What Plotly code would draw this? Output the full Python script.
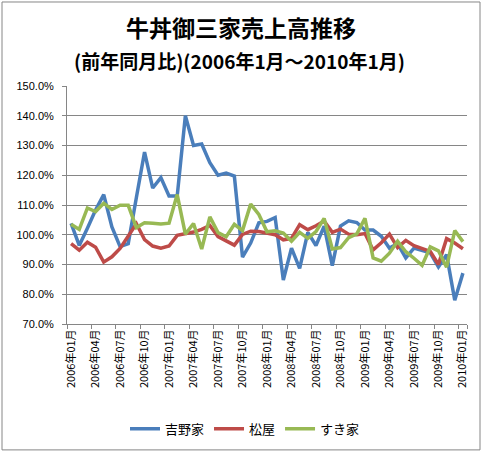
import plotly.graph_objs as go

# Meses: 2006年01月 ... 2010年01月
meses = [f"{a}年{m:02d}月" for a in range(2006, 2011) for m in range(1, 13)][:49]

# Ventas respecto al mismo mes del año anterior (%)
yoshinoya = [103.8, 96.4, 102.2, 108.3, 113.5, 102.6, 96.0, 97.0, 112.5, 127.8,
             115.7, 119.2, 113.0, 113.0, 140.0, 130.0, 130.5, 124.2, 120.0, 120.7,
             119.7, 92.5, 97.2, 104.0, 104.5, 105.8, 84.8, 95.5, 88.7, 100.8,
             96.4, 102.9, 89.6, 102.9, 104.7, 104.1, 101.6, 101.6, 99.5, 95.5,
             97.0, 92.2, 95.5, 94.8, 93.9, 89.2, 93.3, 78.0, 87.1]
matsuya = [97.0, 94.8, 97.5, 95.8, 90.8, 92.6, 95.4, 99.3, 103.7, 98.4,
           96.2, 95.5, 96.2, 99.8, 100.3, 100.9, 101.8, 103.1, 99.4, 98.1,
           96.5, 100.1, 101.2, 101.1, 100.6, 100.0, 98.3, 98.8, 103.4, 101.7,
           103.0, 104.6, 100.8, 101.9, 100.2, 100.0, 100.4, 94.9, 97.3, 100.2,
           95.7, 98.1, 96.3, 95.2, 94.4, 90.0, 98.7, 97.2, 95.3]
sukiya = [103.5, 101.8, 109.0, 107.8, 110.6, 108.5, 109.9, 109.9, 102.4, 104.0,
          103.9, 103.6, 103.9, 113.5, 100.2, 103.8, 95.2, 106.0, 100.7, 99.3,
          103.5, 101.4, 110.3, 106.8, 101.0, 101.3, 100.6, 97.8, 100.8, 98.8,
          101.1, 105.5, 95.2, 95.7, 99.0, 100.3, 105.5, 92.2, 91.1, 93.8,
          97.8, 94.3, 92.1, 89.7, 95.9, 94.6, 89.1, 101.4, 97.7]

series = [("吉野家", yoshinoya, "#4A7EBB"),
          ("松屋", matsuya, "#BE4B48"),
          ("すき家", sukiya, "#98B954")]

fuente = "Noto Sans CJK JP"
gris = "#868686"

fig = go.Figure()
for nombre, valores, color in series:
    fig.add_trace(go.Scatter(x=meses, y=valores, name=nombre, mode="lines",
                             line=dict(color=color, width=3.5)))

fig.update_layout(
    width=483, height=453,
    margin=dict(l=67, r=16, t=86, b=129, autoexpand=False),
    paper_bgcolor="white", plot_bgcolor="white",
    font=dict(family=fuente, color="black"),
    showlegend=True,
    legend=dict(orientation="h", x=0.445, xanchor="center", y=-0.44, yanchor="middle",
                font=dict(size=13), itemwidth=30, traceorder="normal"),
    xaxis=dict(
        type="category",
        tickmode="array", tickvals=meses[::3], ticktext=meses[::3],
        tickson="boundaries", ticks="outside", ticklen=4, tickcolor=gris,
        tickangle=-90, tickfont=dict(size=11, family=fuente),
        showline=True, linecolor=gris, linewidth=1,
        showgrid=False, range=[-0.5, 48.5],
    ),
    yaxis=dict(
        range=[70, 150], dtick=10, tickformat=".1f", ticksuffix="%",
        showgrid=True, gridcolor=gris, gridwidth=1,
        showline=True, linecolor=gris, linewidth=1,
        ticks="outside", ticklen=4, tickcolor=gris, ticklabelstandoff=6,
        tickfont=dict(size=11, family="Liberation Sans"),
        zeroline=False,
    ),
    annotations=[
        dict(text="<b>牛丼御三家売上高推移</b>", x=0.435, y=1.248, xref="paper", yref="paper",
             showarrow=False, font=dict(size=23, family=fuente), xanchor="center", yanchor="middle"),
        dict(text="<b>(前年同月比)(2006年1月～2010年1月)</b>", x=0.432, y=1.109, xref="paper",
             yref="paper", showarrow=False, font=dict(size=19, family=fuente),
             xanchor="center", yanchor="middle"),
    ],
    shapes=[dict(type="rect", xref="paper", yref="paper", x0=-0.1625, x1=1.0325,
                 y0=-0.529, y1=1.353, line=dict(color=gris, width=1))],
)

# quitar el margen por defecto del body para que la figura empiece en (0,0)
fig.write_html("out.html", config={"displayModeBar": False},
               post_script="document.body.style.margin='0px';")
